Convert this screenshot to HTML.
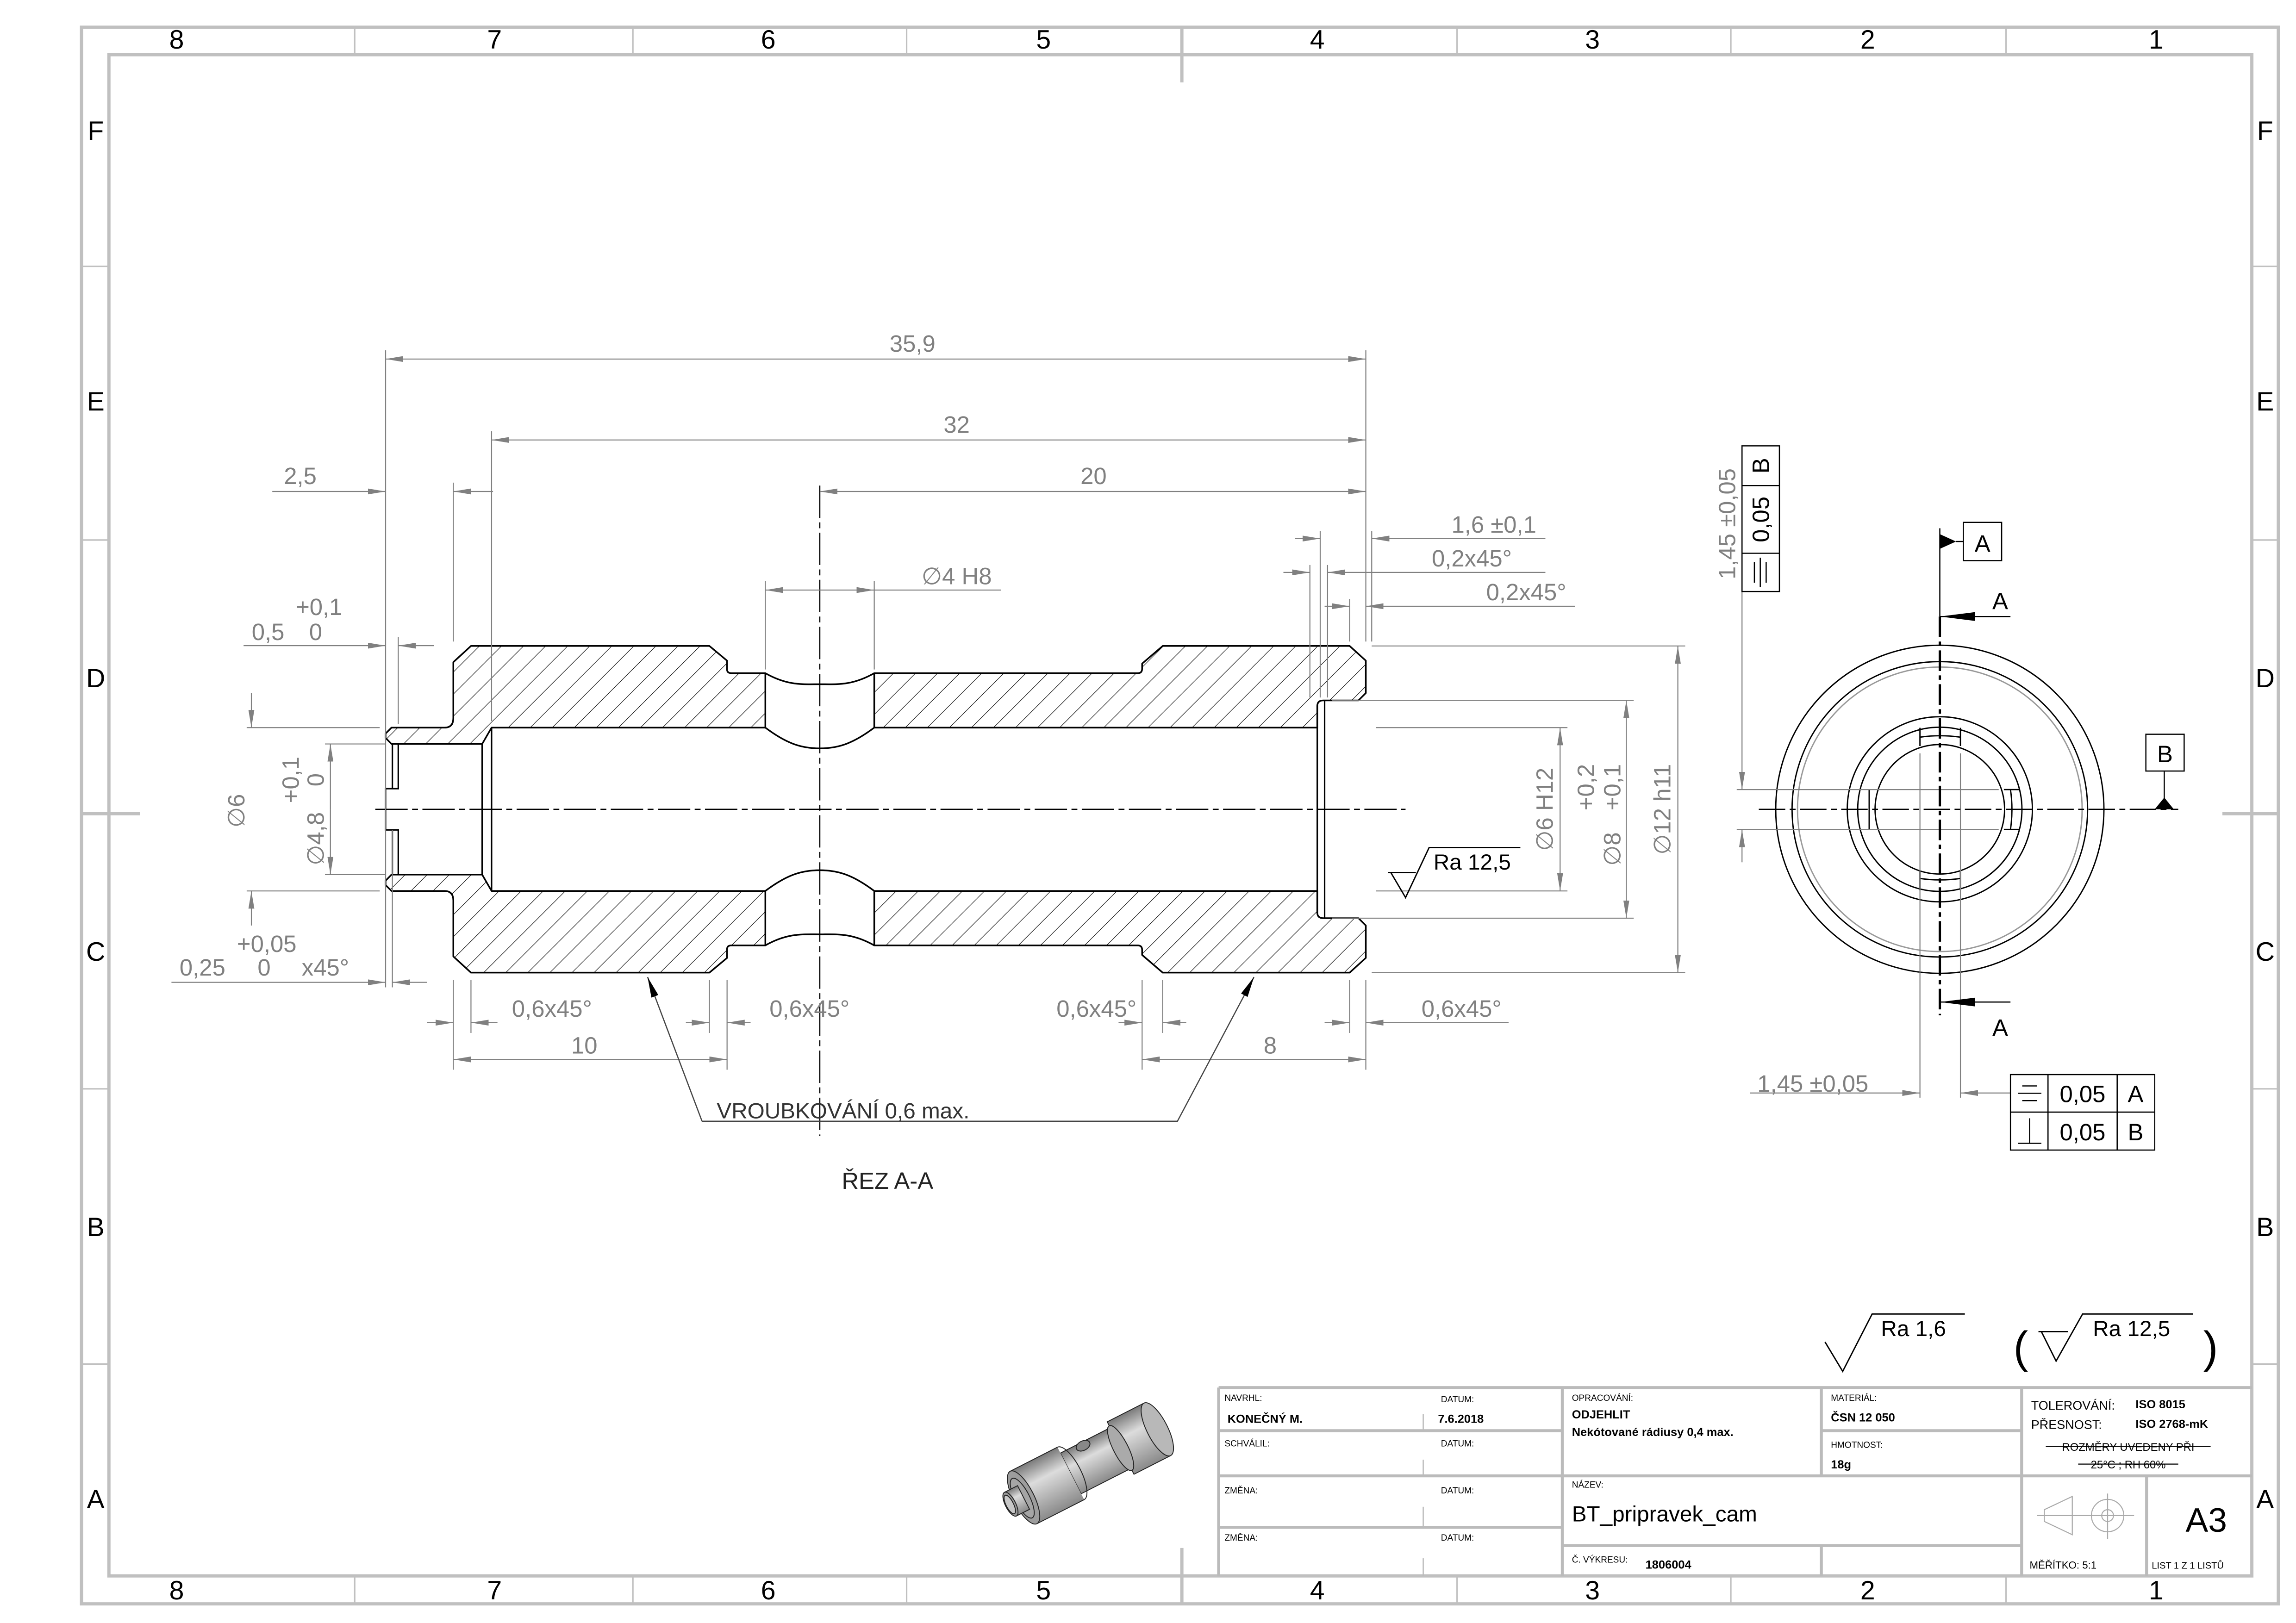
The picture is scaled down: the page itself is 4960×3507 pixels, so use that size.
<!DOCTYPE html>
<html><head><meta charset="utf-8"><style>
html,body{margin:0;padding:0;background:#fff}
svg{display:block}
text{font-family:"Liberation Sans",sans-serif}
.d{fill:#808080;font-size:16px}
.tl{font-size:6px;fill:#000}
.tb{font-size:8px;font-weight:bold;fill:#000}
</style></head><body>
<svg xmlns="http://www.w3.org/2000/svg" width="4960" height="3507" viewBox="0 0 1560 1103">
<defs>
<marker id="ar" viewBox="0 0 12 4" refX="12" refY="2" markerWidth="12" markerHeight="4" markerUnits="userSpaceOnUse" orient="auto-start-reverse"><path d="M0,0L12,2L0,4z" fill="#808080"/></marker>
<marker id="ab" viewBox="0 0 14 5" refX="14" refY="2.5" markerWidth="14" markerHeight="5" markerUnits="userSpaceOnUse" orient="auto-start-reverse"><path d="M0,0L14,2.5L0,5z" fill="#000"/></marker>
<marker id="ak" viewBox="0 0 24 6" refX="24" refY="3" markerWidth="24" markerHeight="6" markerUnits="userSpaceOnUse" orient="auto-start-reverse"><path d="M0,0L24,3L0,6z" fill="#000"/></marker>
<pattern id="h" patternUnits="userSpaceOnUse" width="10.6" height="10" patternTransform="rotate(45)"><line x1="0" y1="0" x2="0" y2="10" stroke="#000" stroke-width="0.7"/></pattern>
<linearGradient id="g" x1="0" y1="0" x2="0" y2="1"><stop offset="0" stop-color="#7a7a7a"/><stop offset="0.35" stop-color="#dcdcdc"/><stop offset="1" stop-color="#8a8a8a"/></linearGradient>
</defs>

<!-- sheet frame -->
<g stroke="#c0c0c0" stroke-width="2.2" fill="none">
<rect x="55.4" y="18.5" width="1492.6" height="1071.5"/>
<rect x="74" y="37.2" width="1456" height="1033.8"/>
</g>
<g stroke="#c0c0c0" stroke-width="1">
<line x1="241" y1="18.5" x2="241" y2="37.2"/><line x1="430" y1="18.5" x2="430" y2="37.2"/><line x1="616" y1="18.5" x2="616" y2="37.2"/><line x1="990" y1="18.5" x2="990" y2="37.2"/><line x1="1176" y1="18.5" x2="1176" y2="37.2"/><line x1="1363" y1="18.5" x2="1363" y2="37.2"/>
<line x1="241" y1="1071" x2="241" y2="1090"/><line x1="430" y1="1071" x2="430" y2="1090"/><line x1="616" y1="1071" x2="616" y2="1090"/><line x1="990" y1="1071" x2="990" y2="1090"/><line x1="1176" y1="1071" x2="1176" y2="1090"/><line x1="1363" y1="1071" x2="1363" y2="1090"/>
<line x1="55" y1="181" x2="74" y2="181"/><line x1="55" y1="367" x2="74" y2="367"/><line x1="55" y1="740" x2="74" y2="740"/><line x1="55" y1="927" x2="74" y2="927"/>
<line x1="1530" y1="181" x2="1548" y2="181"/><line x1="1530" y1="367" x2="1548" y2="367"/><line x1="1530" y1="740" x2="1548" y2="740"/><line x1="1530" y1="927" x2="1548" y2="927"/>
</g>
<g stroke="#c0c0c0" stroke-width="2.2">
<line x1="803" y1="18.5" x2="803" y2="56"/><line x1="803" y1="1052" x2="803" y2="1090"/>
<line x1="55" y1="553" x2="95" y2="553"/><line x1="1510" y1="553" x2="1548" y2="553"/>
</g>
<g font-size="18" text-anchor="middle" fill="#000">
<text x="120" y="33">8</text><text x="336" y="33">7</text><text x="522" y="33">6</text><text x="709" y="33">5</text><text x="895" y="33">4</text><text x="1082" y="33">3</text><text x="1269" y="33">2</text><text x="1465" y="33">1</text>
<text x="120" y="1087">8</text><text x="336" y="1087">7</text><text x="522" y="1087">6</text><text x="709" y="1087">5</text><text x="895" y="1087">4</text><text x="1082" y="1087">3</text><text x="1269" y="1087">2</text><text x="1465" y="1087">1</text>
<text x="65" y="95">F</text><text x="65" y="279">E</text><text x="65" y="467">D</text><text x="65" y="653">C</text><text x="65" y="840">B</text><text x="65" y="1025">A</text>
<text x="1539" y="95">F</text><text x="1539" y="279">E</text><text x="1539" y="467">D</text><text x="1539" y="653">C</text><text x="1539" y="840">B</text><text x="1539" y="1025">A</text>
</g>

<!-- SECTION A-A -->
<g stroke="#000" stroke-width="1.1" stroke-linejoin="round">
<path fill="url(#h)" d="M266,494.5 L302,494.5 Q308,494.5 308,488 L308,450 L320,439 L482,439 L494,449 L494,455 Q494,457.5 497,457.5 L520,457.5 L520,494.5 L334,494.5 L327.6,505.6 L266,505.6 L262,501.5 L262,498.5 Z"/>
<path fill="url(#h)" d="M594,457.5 L773,457.5 Q776,457.5 776,454.5 L776,451 L790,439 L917,439 L928,449 L928,471 L923,476 L899,476 Q895,476 895,480 L895,494.5 L594,494.5 Z"/>
<path d="M520,457.5 C535,466 545,465 557,465 C569,465 579,466 594,457.5" fill="none"/>
<path d="M594,494.5 C580,505 570,508.6 557,508.6 C544,508.6 534,505 520,494.5" fill="none"/>
<path fill="url(#h)" d="M266,605.5 L302,605.5 Q308,605.5 308,612 L308,650 L320,661 L482,661 L494,651 L494,645 Q494,642.5 497,642.5 L520,642.5 L520,605.5 L334,605.5 L327.6,594.4 L266,594.4 L262,598.5 L262,601.5 Z"/>
<path fill="url(#h)" d="M594,642.5 L773,642.5 Q776,642.5 776,645.5 L776,649 L790,661 L917,661 L928,651 L928,629 L923,624 L899,624 Q895,624 895,620 L895,605.5 L594,605.5 Z"/>
<path d="M520,642.5 C535,634 545,635 557,635 C569,635 579,634 594,642.5" fill="none"/>
<path d="M594,605.5 C580,595 570,591.4 557,591.4 C544,591.4 534,595 520,605.5" fill="none"/>
</g>
<g stroke="#000" stroke-width="1" fill="none">
<line x1="334" y1="494.5" x2="334" y2="605.5"/>
<line x1="327.6" y1="505.6" x2="327.6" y2="594.4"/>
<line x1="895" y1="480" x2="895" y2="620"/>
<line x1="900" y1="476" x2="900" y2="624"/>
<polyline points="270.6,505.6 270.6,536 262,536 262,564 270.6,564 270.6,594.4"/>
<line x1="266.6" y1="505.6" x2="266.6" y2="536"/><line x1="266.6" y1="564" x2="266.6" y2="594.4"/>
</g>
<g stroke="#000" stroke-width="0.8" stroke-dasharray="22 3 4 3">
<line x1="255" y1="550" x2="955" y2="550"/>
<line x1="557" y1="330" x2="557" y2="772"/>
</g>

<!-- dimensions -->
<g stroke="#808080" stroke-width="0.7" fill="none">
<line x1="262" y1="238" x2="262" y2="671"/>
<line x1="928" y1="238" x2="928" y2="436"/>
<line x1="334" y1="293" x2="334" y2="490"/>
<line x1="308" y1="328" x2="308" y2="436"/>
<line x1="520" y1="395" x2="520" y2="455"/>
<line x1="594" y1="395" x2="594" y2="455"/>
<line x1="897" y1="361" x2="897" y2="474"/>
<line x1="890" y1="384" x2="890" y2="474"/>
<line x1="902" y1="384" x2="902" y2="474"/>
<line x1="917" y1="407" x2="917" y2="436"/>
<line x1="932" y1="361" x2="932" y2="436"/>
<line x1="270.6" y1="433" x2="270.6" y2="492"/>
<line x1="266.6" y1="564" x2="266.6" y2="671"/>
<line x1="167.6" y1="494.5" x2="258" y2="494.5"/>
<line x1="167.6" y1="605.5" x2="258" y2="605.5"/>
<line x1="220.8" y1="505.6" x2="262" y2="505.6"/>
<line x1="220.8" y1="594.4" x2="262" y2="594.4"/>
<line x1="932" y1="439" x2="1145" y2="439"/>
<line x1="932" y1="661" x2="1145" y2="661"/>
<line x1="905" y1="476" x2="1110" y2="476"/>
<line x1="905" y1="624" x2="1110" y2="624"/>
<line x1="935" y1="494.5" x2="1065" y2="494.5"/>
<line x1="935" y1="605.5" x2="1065" y2="605.5"/>
<line x1="308" y1="666" x2="308" y2="727"/>
<line x1="320" y1="666" x2="320" y2="702"/>
<line x1="482" y1="666" x2="482" y2="702"/>
<line x1="494" y1="666" x2="494" y2="727"/>
<line x1="776" y1="666" x2="776" y2="727"/>
<line x1="790" y1="666" x2="790" y2="702"/>
<line x1="917" y1="666" x2="917" y2="702"/>
<line x1="928" y1="666" x2="928" y2="727"/>
</g>
<g stroke="#808080" stroke-width="0.7" fill="none" marker-end="url(#ar)">
<line x1="262" y1="244" x2="928" y2="244" marker-start="url(#ar)"/>
<line x1="334" y1="299" x2="928" y2="299" marker-start="url(#ar)"/>
<line x1="557" y1="334" x2="928" y2="334" marker-start="url(#ar)"/>
<line x1="185" y1="334" x2="262" y2="334"/>
<line x1="335" y1="334" x2="308" y2="334"/>
<line x1="520" y1="401" x2="594" y2="401" marker-start="url(#ar)"/>
<line x1="880" y1="366" x2="897" y2="366"/>
<line x1="1050" y1="366" x2="932" y2="366"/>
<line x1="872" y1="389" x2="890" y2="389"/>
<line x1="1050" y1="389" x2="902" y2="389"/>
<line x1="900" y1="412" x2="917" y2="412"/>
<line x1="1070" y1="412" x2="928" y2="412"/>
<line x1="165.5" y1="438.8" x2="262" y2="438.8"/>
<line x1="294.7" y1="438.8" x2="270.6" y2="438.8"/>
<line x1="116.5" y1="667.6" x2="262" y2="667.6"/>
<line x1="290" y1="667.6" x2="266.6" y2="667.6"/>
<line x1="170.8" y1="471" x2="170.8" y2="494.5"/>
<line x1="170.8" y1="629" x2="170.8" y2="605.5"/>
<line x1="224.5" y1="550" x2="224.5" y2="505.6"/>
<line x1="224.5" y1="550" x2="224.5" y2="594.4"/>
<line x1="1140" y1="439" x2="1140" y2="661" marker-start="url(#ar)"/>
<line x1="1105" y1="476" x2="1105" y2="624" marker-start="url(#ar)"/>
<line x1="1060" y1="494.5" x2="1060" y2="605.5" marker-start="url(#ar)"/>
<line x1="290" y1="695" x2="308" y2="695"/>
<line x1="338" y1="695" x2="320" y2="695"/>
<line x1="466" y1="695" x2="482" y2="695"/>
<line x1="510" y1="695" x2="494" y2="695"/>
<line x1="760" y1="695" x2="776" y2="695"/>
<line x1="806" y1="695" x2="790" y2="695"/>
<line x1="900" y1="695" x2="917" y2="695"/>
<line x1="1025" y1="695" x2="928" y2="695"/>
<line x1="308" y1="720" x2="494" y2="720" marker-start="url(#ar)"/>
<line x1="776" y1="720" x2="928" y2="720" marker-start="url(#ar)"/>
</g>
<g stroke="#808080" stroke-width="0.7"><line x1="594" y1="401" x2="680" y2="401"/></g>
<g class="d">
<text x="620" y="239" text-anchor="middle">35,9</text>
<text x="650" y="294" text-anchor="middle">32</text>
<text x="743" y="329" text-anchor="middle">20</text>
<text x="204" y="329" text-anchor="middle">2,5</text>
<text x="650" y="397" text-anchor="middle">∅4 H8</text>
<text x="1015" y="362" text-anchor="middle">1,6 ±0,1</text>
<text x="1000" y="385" text-anchor="middle">0,2x45°</text>
<text x="1037" y="408" text-anchor="middle">0,2x45°</text>
<text x="171" y="435">0,5</text><text x="201" y="418">+0,1</text><text x="210" y="435">0</text>
<text x="122" y="663">0,25</text><text x="161" y="647">+0,05</text><text x="175" y="663">0</text><text x="205" y="663">x45°</text>
<text transform="translate(166,551) rotate(-90)" text-anchor="middle">∅6</text>
<text transform="translate(220,570) rotate(-90)" text-anchor="middle">∅4,8</text>
<text transform="translate(203,530) rotate(-90)" text-anchor="middle">+0,1</text>
<text transform="translate(220,530) rotate(-90)" text-anchor="middle">0</text>
<text transform="translate(1135,550) rotate(-90)" text-anchor="middle">∅12 h11</text>
<text transform="translate(1101,577) rotate(-90)" text-anchor="middle">∅8</text>
<text transform="translate(1083,535) rotate(-90)" text-anchor="middle">+0,2</text>
<text transform="translate(1101,535) rotate(-90)" text-anchor="middle">+0,1</text>
<text transform="translate(1055,550) rotate(-90)" text-anchor="middle">∅6 H12</text>
<text x="375" y="691" text-anchor="middle">0,6x45°</text>
<text x="550" y="691" text-anchor="middle">0,6x45°</text>
<text x="745" y="691" text-anchor="middle">0,6x45°</text>
<text x="993" y="691" text-anchor="middle">0,6x45°</text>
<text x="397" y="716" text-anchor="middle">10</text>
<text x="863" y="716" text-anchor="middle">8</text>
</g>
<g stroke="#444" stroke-width="0.8" fill="none">
<polyline points="477,762 800,762 852,664" marker-end="url(#ab)"/>
<line x1="477" y1="762" x2="440" y2="664" marker-end="url(#ab)"/>
</g>
<text x="487" y="760" font-size="15" fill="#333">VROUBKOVÁNÍ 0,6  max.</text>
<text x="603" y="808" font-size="16" fill="#222" text-anchor="middle">ŘEZ A-A</text>
<g stroke="#000" stroke-width="0.9" fill="none"><polyline points="943,593 962,593"/><polyline points="945,593 955,610 971,576 1033,576"/></g>
<text x="974" y="591" font-size="15" fill="#000">Ra 12,5</text>

<!-- RIGHT VIEW -->
<g fill="none" stroke="#000" stroke-width="0.9">
<circle cx="1318" cy="550" r="111.5"/>
<circle cx="1318" cy="550" r="100.4"/>
<circle cx="1318" cy="550" r="96.7" stroke="#999"/>
<circle cx="1318" cy="550" r="62.9"/>
<circle cx="1318" cy="550" r="55.8"/>
<circle cx="1318" cy="550" r="44"/>
<line x1="1304.5" y1="494.6" x2="1304.5" y2="507"/><line x1="1332" y1="494.6" x2="1332" y2="507"/>
<path d="M1304.5,501 Q1318,499 1332,501"/>
<line x1="1304.5" y1="592" x2="1304.5" y2="605"/><line x1="1332" y1="592" x2="1332" y2="605"/>
<path d="M1304.5,597 Q1318,599 1332,597"/>
<line x1="1361.5" y1="536.6" x2="1372.3" y2="536.6"/><line x1="1361.5" y1="563.7" x2="1372.3" y2="563.7"/>
<path d="M1366,536.6 Q1368,550 1366,563.7"/>
<line x1="1270" y1="536.6" x2="1270" y2="563.7"/>
</g>
<g stroke="#808080" stroke-width="0.7" fill="none">
<line x1="1304.5" y1="512" x2="1304.5" y2="746"/>
<line x1="1332" y1="512" x2="1332" y2="746"/>
<line x1="1180" y1="536.6" x2="1358" y2="536.6"/>
<line x1="1180" y1="563.7" x2="1358" y2="563.7"/>
<line x1="1183.6" y1="402" x2="1183.6" y2="536.6" marker-end="url(#ar)"/>
<line x1="1183.6" y1="586" x2="1183.6" y2="563.7" marker-end="url(#ar)"/>
<line x1="1189" y1="742.8" x2="1304.5" y2="742.8" marker-end="url(#ar)"/>
<line x1="1366" y1="742.8" x2="1332" y2="742.8" marker-end="url(#ar)"/>
</g>
<text transform="translate(1179,356) rotate(-90)" class="d" text-anchor="middle">1,45 ±0,05</text>
<text x="1194" y="742" class="d">1,45 ±0,05</text>
<g stroke="#000" stroke-width="0.8" stroke-dasharray="18 3 4 3"><line x1="1195" y1="550" x2="1480" y2="550"/></g>
<g stroke="#000" stroke-width="0.8"><line x1="1318" y1="359" x2="1318" y2="419"/></g>
<g stroke="#000" stroke-width="1.6" stroke-dasharray="14 3 3 3"><line x1="1318" y1="419" x2="1318" y2="690"/></g>
<path d="M1318,363 L1329,368 L1318,373z" fill="#000"/>
<g fill="none" stroke="#000" stroke-width="0.8">
<line x1="1329" y1="368" x2="1334" y2="368"/>
<rect x="1334" y="355" width="26" height="26"/>
<line x1="1366" y1="419" x2="1318" y2="419" marker-end="url(#ak)"/>
<line x1="1366" y1="681" x2="1318" y2="681" marker-end="url(#ak)"/>
<rect x="1458" y="499" width="26" height="25"/>
<line x1="1470.5" y1="524" x2="1470.5" y2="543"/>
</g>
<path d="M1464,550 L1470.5,542 L1477,550z" fill="#000"/>
<g font-size="16" fill="#000" text-anchor="middle">
<text x="1347" y="375">A</text><text x="1359" y="414">A</text><text x="1359" y="704">A</text><text x="1471" y="518">B</text>
</g>
<g fill="none" stroke="#000" stroke-width="0.8">
<rect x="1183.6" y="303" width="25.4" height="99"/>
<line x1="1183.6" y1="330" x2="1209" y2="330"/><line x1="1183.6" y1="376" x2="1209" y2="376"/>
<line x1="1192" y1="382" x2="1192" y2="396"/><line x1="1196" y1="379" x2="1196" y2="399"/><line x1="1200" y1="382" x2="1200" y2="396"/>
</g>
<g font-size="16" fill="#000" text-anchor="middle">
<text transform="translate(1202,316.5) rotate(-90)">B</text>
<text transform="translate(1202,353) rotate(-90)">0,05</text>
</g>
<g fill="none" stroke="#000" stroke-width="0.8">
<rect x="1366" y="730.3" width="98" height="51.3"/>
<line x1="1391.5" y1="730.3" x2="1391.5" y2="781.6"/><line x1="1438.5" y1="730.3" x2="1438.5" y2="781.6"/><line x1="1366" y1="755.8" x2="1464" y2="755.8"/>
<line x1="1374" y1="738" x2="1384" y2="738"/><line x1="1371" y1="743" x2="1387" y2="743"/><line x1="1374" y1="748" x2="1384" y2="748"/>
<line x1="1379" y1="760" x2="1379" y2="777"/><line x1="1371" y1="777" x2="1387" y2="777"/>
</g>
<g font-size="16" fill="#000" text-anchor="middle">
<text x="1415" y="749">0,05</text><text x="1451" y="749">A</text>
<text x="1415" y="775">0,05</text><text x="1451" y="775">B</text>
</g>

<g stroke="#000" stroke-width="0.9" fill="none">
<polyline points="1240,912 1252,932 1272,893 1335,893"/>
<polyline points="1385,905 1405,905"/>
<polyline points="1387,905 1397,925 1415,893 1490,893"/>
</g>
<text x="1278" y="908" font-size="15" fill="#000">Ra 1,6</text>
<text x="1422" y="908" font-size="15" fill="#000">Ra 12,5</text>
<text x="1368" y="926" font-size="30" fill="#000">(</text>
<text x="1497" y="926" font-size="30" fill="#000">)</text>

<!-- 3D view -->
<g transform="translate(740,995) rotate(-27)" stroke="#222" stroke-width="0.6">
<rect x="24" y="-20" width="28" height="40" fill="url(#g)"/>
<ellipse cx="52" cy="0" rx="7" ry="20" fill="#b8b8b8"/>
<rect x="-14" y="-15.5" width="38" height="31" fill="url(#g)"/>
<ellipse cx="24" cy="0" rx="5" ry="17" fill="#aaa"/>
<rect x="-50" y="-20" width="36" height="40" fill="url(#g)" stroke="none"/>
<line x1="-50" y1="-20" x2="-14" y2="-20"/><line x1="-50" y1="20" x2="-14" y2="20"/>
<path d="M-14,-20 A7,20 0 0 1 -14,20" fill="none"/>
<ellipse cx="-50" cy="0" rx="7" ry="20" fill="#9d9d9d"/>
<ellipse cx="-51" cy="0" rx="5" ry="15" fill="#a5a5a5"/>
<rect x="-60" y="-9" width="10" height="18" fill="url(#g)"/>
<ellipse cx="-60" cy="0" rx="3.5" ry="9" fill="#999"/>
<ellipse cx="-60.5" cy="0" rx="2.5" ry="7" fill="#c8c8c8"/>
<ellipse cx="2" cy="-13" rx="5" ry="3.2" fill="#888"/>
</g>

<!-- TITLE BLOCK -->
<g stroke="#bbb" stroke-width="2" fill="none">
<line x1="828" y1="943" x2="1530" y2="943"/>
<line x1="828" y1="943" x2="828" y2="1071"/>
<line x1="828" y1="972.3" x2="1061.5" y2="972.3"/>
<line x1="828" y1="1003" x2="1530" y2="1003"/>
<line x1="828" y1="1038" x2="1061.5" y2="1038"/>
<line x1="1237.5" y1="972.3" x2="1373.6" y2="972.3"/>
<line x1="1061.5" y1="1050.4" x2="1373.6" y2="1050.4"/>
<line x1="1061.5" y1="943" x2="1061.5" y2="1071"/>
<line x1="1237.5" y1="943" x2="1237.5" y2="1003"/>
<line x1="1237.5" y1="1050.4" x2="1237.5" y2="1071"/>
<line x1="1373.6" y1="943" x2="1373.6" y2="1071"/>
<line x1="1458.5" y1="1003" x2="1458.5" y2="1071"/>
</g>
<g stroke="#bbb" stroke-width="0.8">
<line x1="967" y1="961" x2="967" y2="972"/><line x1="967" y1="992" x2="967" y2="1003"/><line x1="967" y1="1024" x2="967" y2="1038"/><line x1="967" y1="1059" x2="967" y2="1071"/>
</g>
<g class="tl">
<text x="832" y="952">NAVRHL:</text><text x="979" y="953">DATUM:</text>
<text x="832" y="983">SCHVÁLIL:</text><text x="979" y="983">DATUM:</text>
<text x="832" y="1015">ZMĚNA:</text><text x="979" y="1015">DATUM:</text>
<text x="832" y="1047">ZMĚNA:</text><text x="979" y="1047">DATUM:</text>
<text x="1068" y="952">OPRACOVÁNÍ:</text>
<text x="1244" y="952">MATERIÁL:</text>
<text x="1244" y="984">HMOTNOST:</text>
<text x="1068" y="1011">NÁZEV:</text>
<text x="1068" y="1062">Č. VÝKRESU:</text>
<text x="1379" y="1066" font-size="7">MĚŘÍTKO: 5:1</text>
<text x="1462" y="1066" font-size="6.3">LIST 1 Z 1 LISTŮ</text>
</g>
<g class="tb">
<text x="834" y="967">KONEČNÝ M.</text><text x="977" y="967">7.6.2018</text>
<text x="1068" y="964">ODJEHLIT</text>
<text x="1068" y="976">Nekótované rádiusy 0,4 max.</text>
<text x="1244" y="966">ČSN 12 050</text>
<text x="1244" y="998">18g</text>
<text x="1118" y="1066">1806004</text>
<text x="1451" y="957">ISO 8015</text>
<text x="1451" y="970.5">ISO 2768-mK</text>
</g>
<g font-size="8.5" fill="#000">
<text x="1380" y="958">TOLEROVÁNÍ:</text>
<text x="1380" y="971">PŘESNOST:</text>
</g>
<g font-size="7.5" fill="#000" text-anchor="middle">
<text x="1446" y="986">ROZMĚRY UVEDENY PŘI</text>
<text x="1446" y="998">25°C ; RH 60%</text>
</g>
<g stroke="#000" stroke-width="0.7"><line x1="1390" y1="983" x2="1502" y2="983"/><line x1="1412" y1="995" x2="1480" y2="995"/></g>
<text x="1068" y="1034" font-size="15" fill="#000">BT_pripravek_cam</text>
<text x="1485" y="1041" font-size="23" fill="#000">A3</text>
<g stroke="#aaa" stroke-width="0.7" fill="none">
<polygon points="1389,1026 1408,1017 1408,1043 1389,1034"/>
<circle cx="1432" cy="1030" r="11"/><circle cx="1432" cy="1030" r="4"/>
<line x1="1384" y1="1030" x2="1450" y2="1030"/><line x1="1432" y1="1015" x2="1432" y2="1046"/>
</g>
</svg>
</body></html>
